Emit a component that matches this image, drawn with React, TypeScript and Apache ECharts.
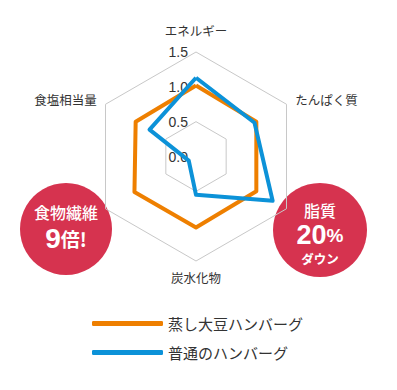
import React, { useEffect, useRef } from "react";
import * as echarts from "echarts";

// indicators listed counter-clockwise starting from the top (ECharts default order)
const indicatorNames = ["エネルギー", "食塩相当量", "", "炭水化物", "", "たんぱく質"];
const axisMin = 0;
const axisMax = 1.5;
const steamedSoy = [1.02, 1.0, 1.02, 1.02, 1.0, 1.0];
const regular = [1.13, 0.77, 0.12, 0.55, 1.27, 0.97];
const seriesNames = ["蒸し大豆ハンバーグ", "普通のハンバーグ"];
const seriesColors = ["#ee7f00", "#0c92d8"];

const FONT = "'Liberation Sans', 'Noto Sans CJK JP', sans-serif";
const JP = "'Noto Sans CJK JP', sans-serif";

export default function App() {
  const ref = useRef<HTMLDivElement>(null);
  useEffect(() => {
    if (!ref.current) return;
    const chart = echarts.init(ref.current, undefined, { renderer: "svg" });
    const red = "#d6334f";
    chart.setOption({
      animation: false,
      backgroundColor: "#ffffff",
      radar: {
        center: [196, 156.5],
        radius: 104.5,
        shape: "polygon",
        splitNumber: 3,
        axisName: { color: "#333", fontSize: 12.5, fontFamily: JP },
        nameGap: 10,
        axisLine: { show: false },
        axisTick: { show: false },
        axisLabel: { show: false },
        splitArea: { show: false },
        splitLine: {
          lineStyle: { color: ["#c8c8c8", "#c8c8c8", "rgba(0,0,0,0)", "#c8c8c8"], width: 1 },
        },
        indicator: indicatorNames.map((n, i) =>
          i === 0
            ? {
                name: n,
                min: axisMin,
                max: axisMax,
                nameGap: 15,
                axisLabel: {
                  show: true,
                  color: "#333",
                  fontSize: 14,
                  fontFamily: FONT,
                  margin: 8,
                  showMinLabel: true,
                  showMaxLabel: true,
                  formatter: (v: number) => Number(v).toFixed(1),
                },
              }
            : { name: n, min: axisMin, max: axisMax }
        ),
      },
      legend: {
        orient: "vertical",
        left: 87,
        top: 311,
        itemWidth: 71,
        itemHeight: 5,
        itemGap: 14,
        icon: "roundRect",
        textStyle: { color: "#333", fontSize: 15, fontFamily: JP },
        data: seriesNames,
      },
      series: [
        {
          type: "radar",
          symbol: "none",
          data: [
            {
              name: seriesNames[0],
              value: steamedSoy,
              lineStyle: { color: seriesColors[0], width: 4 },
              itemStyle: { color: seriesColors[0] },
            },
            {
              name: seriesNames[1],
              value: regular,
              lineStyle: { color: seriesColors[1], width: 4 },
              itemStyle: { color: seriesColors[1] },
            },
          ],
        },
      ],
      graphic: [
        {
          type: "group",
          children: [
            { type: "circle", shape: { cx: 66, cy: 229, r: 46 }, style: { fill: red } },
            {
              type: "text",
              x: 66,
              y: 212,
              style: { text: "食物繊維", fill: "#fff", font: `500 16px ${JP}`, align: "center", verticalAlign: "middle" },
            },
            {
              type: "text",
              x: 66,
              y: 238,
              style: {
                text: "{a|9}{b|倍!}",
                align: "center",
                verticalAlign: "middle",
                rich: {
                  a: { fill: "#fff", fontSize: 28, fontWeight: "bold", fontFamily: FONT },
                  b: { fill: "#fff", fontSize: 19, fontWeight: "bold", fontFamily: JP },
                },
              },
            },
            { type: "circle", shape: { cx: 320, cy: 230, r: 47 }, style: { fill: red } },
            {
              type: "text",
              x: 320,
              y: 210,
              style: { text: "脂質", fill: "#fff", font: `500 16px ${JP}`, align: "center", verticalAlign: "middle" },
            },
            {
              type: "text",
              x: 320,
              y: 235,
              style: {
                text: "{a|20}{b|%}",
                align: "center",
                verticalAlign: "middle",
                rich: {
                  a: { fill: "#fff", fontSize: 27, fontWeight: "bold", fontFamily: FONT, lineHeight: 24 },
                  b: { fill: "#fff", fontSize: 19, fontWeight: "bold", fontFamily: FONT, lineHeight: 24 },
                },
              },
            },
            {
              type: "text",
              x: 320,
              y: 258,
              style: { text: "ダウン", fill: "#fff", font: `bold 12.5px ${JP}`, align: "center", verticalAlign: "middle" },
            },
          ],
        },
      ],
    });
    return () => chart.dispose();
  }, []);
  return (
    <div
      ref={ref}
      style={{ position: "absolute", left: 0, top: 0, width: 397, height: 390 }}
    />
  );
}
